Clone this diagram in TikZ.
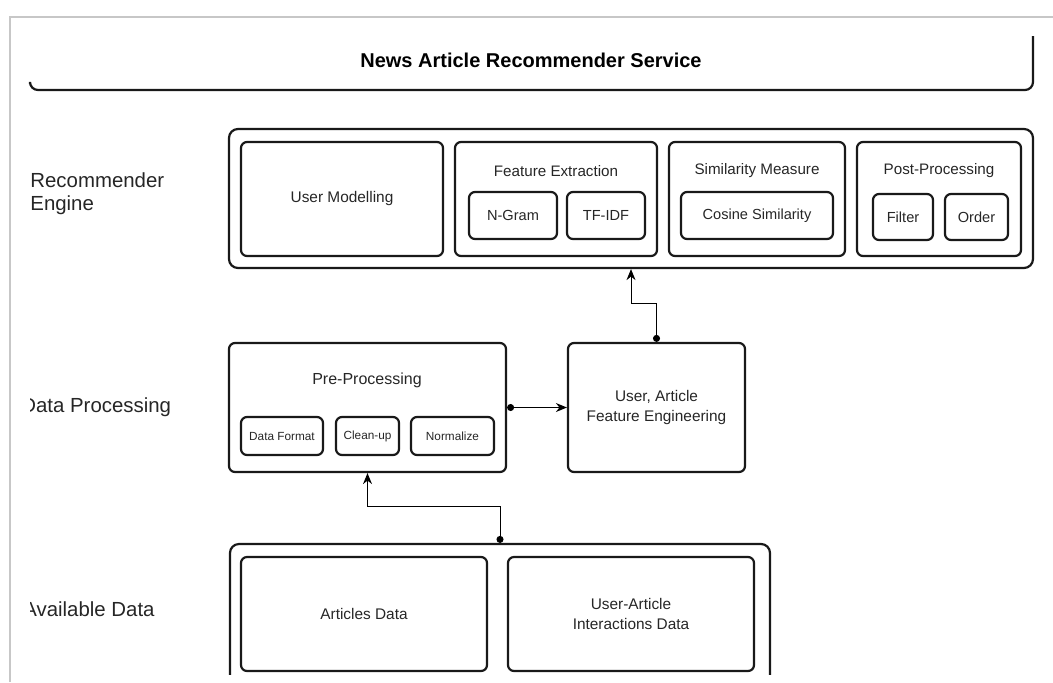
\documentclass[tikz,border=0pt]{standalone}
\usepackage{fontspec}
\setmainfont{Liberation Sans}
\usetikzlibrary{arrows.meta}
\begin{document}
\begin{tikzpicture}[x=0.5pt,y=-0.5pt,
    box/.style={draw=black!90,line width=1.1pt,rounded corners=3pt,inner sep=0pt,
      align=center,text=black!85,font=\fontsize{7.7}{9.6}\selectfont},
    outerbox/.style={box,rounded corners=4.5pt},
    smallbox/.style={box,font=\fontsize{7.3}{9}\selectfont},
    tinybox/.style={box,font=\fontsize{5.9}{7}\selectfont},
    boxtitle/.style={inner sep=0pt,text=black!85,font=\fontsize{7.6}{9}\selectfont},
    rowlabel/.style={inner sep=0pt,anchor=west,align=left,text=black!85,
      font=\fontsize{10.2}{11.6}\selectfont},
    conn/.style={line width=0.5pt,{Circle[length=3.5pt]}-{Stealth[length=5.5pt,width=4.5pt]}}]
  \useasboundingbox (0,0) rectangle (1053,682);
  % window frame
  \draw[black!22,line width=1pt] (10,682) -- (10,17) -- (1053,17);
  % title
  \draw[black!90,line width=1.1pt,rounded corners=4pt] (30,84) -- (30,90) -- (1033,90) -- (1033,36);
  \node[inner sep=0pt,font=\fontsize{10}{12}\bfseries\selectfont] (title) at (531,60) {News Article Recommender Service};
  % row labels
  \begin{scope}
    \clip (30,0) rectangle (1053,682);
    \node[rowlabel] (recLabel) at (30,194) {Recommender\\Engine};
    \node[rowlabel] (procLabel) at (21,407) {Data Processing};
    \node[rowlabel] (dataLabel) at (23,609) {Available Data};
  \end{scope}
  % recommender engine
  \node[outerbox,minimum width=402pt,minimum height=69.5pt] (recEngine) at (631,198.5) {};
  \node[box,minimum width=101pt,minimum height=57pt] (userModel) at (342,199) {User Modelling};
  \node[box,minimum width=101pt,minimum height=57pt] (featExt) at (556,199) {};
  \node[boxtitle] (featExtTitle) at (556,171) {Feature Extraction};
  \node[smallbox,minimum width=44pt,minimum height=23.5pt] (ngram) at (513,215.5) {N-Gram};
  \node[smallbox,minimum width=39pt,minimum height=23.5pt] (tfidf) at (606,215.5) {TF-IDF};
  \node[box,minimum width=88pt,minimum height=57pt] (simMeasure) at (757,199) {};
  \node[boxtitle] (simTitle) at (757,171) {Similarity Measure};
  \node[smallbox,minimum width=76pt,minimum height=23.5pt] (cosine) at (757,215.5) {Cosine Similarity};
  \node[box,minimum width=82pt,minimum height=57pt] (postProc) at (939,199) {};
  \node[boxtitle] (postTitle) at (939,171) {Post-Processing};
  \node[smallbox,minimum width=30pt,minimum height=23pt] (filter) at (903,217) {Filter};
  \node[smallbox,minimum width=31.5pt,minimum height=23pt] (order) at (976.5,217) {Order};
  % data processing
  \node[box,minimum width=138.5pt,minimum height=64.5pt] (preProc) at (367.5,407.5) {};
  \node[boxtitle,font=\fontsize{8}{9.6}\selectfont] (preTitle) at (367,380) {Pre-Processing};
  \node[tinybox,minimum width=41pt,minimum height=19pt] (dataFormat) at (282,436) {Data Format};
  \node[tinybox,minimum width=31.5pt,minimum height=19pt] (cleanup) at (367.5,436) {Clean-up};
  \node[tinybox,minimum width=41.5pt,minimum height=19pt] (normalize) at (452.5,436) {Normalize};
  \node[box,minimum width=88.5pt,minimum height=64.5pt] (featEng) at (656.5,407.5) {User, Article\\Feature Engineering};
  % available data
  \begin{scope}
    \clip (0,0) rectangle (1053,674);
    \node[outerbox,minimum width=270pt,minimum height=88pt] (availData) at (500,632) {};
  \end{scope}
  \node[box,minimum width=123pt,minimum height=57pt] (articles) at (364,614) {Articles Data};
  \node[box,minimum width=123pt,minimum height=57pt] (interactions) at (631,614) {User-Article\\Interactions Data};
  % connectors
  \draw[conn] (preProc.east) -- (featEng.west);
  \draw[conn] (featEng.north) -- ++(0,-38) -| (recEngine.south);
  \draw[conn] (availData.north) -- ++(0,-36) -| (preProc.south);
\end{tikzpicture}
\end{document}
